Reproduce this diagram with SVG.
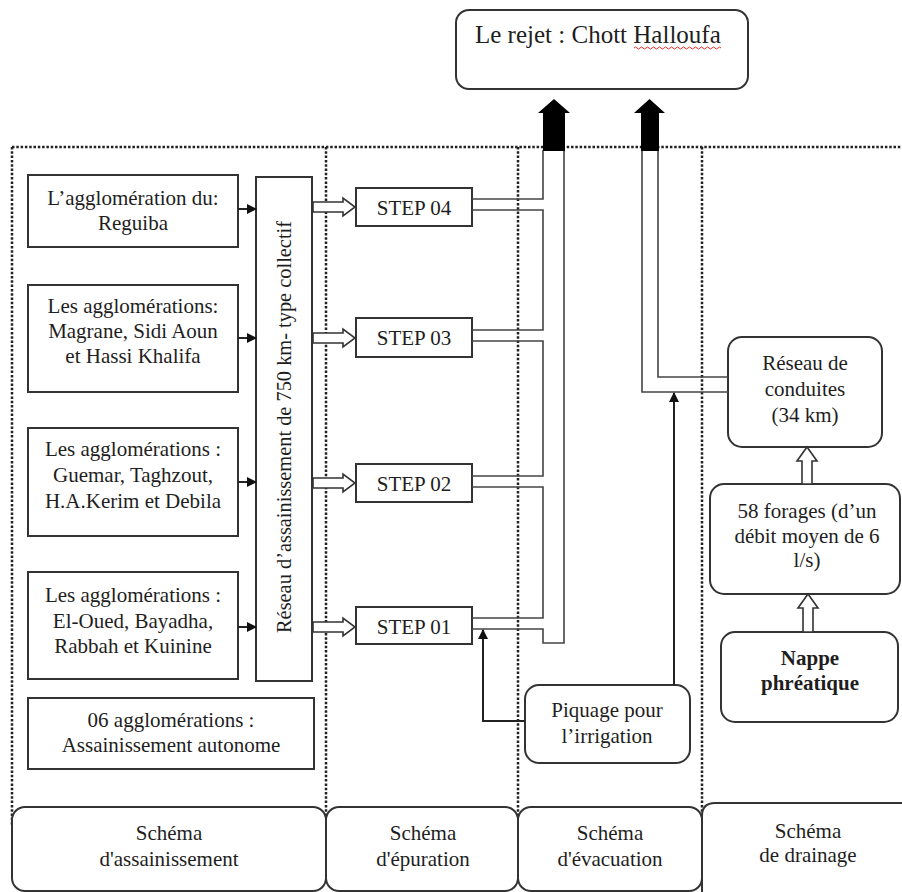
<svg xmlns="http://www.w3.org/2000/svg" width="902" height="892" viewBox="0 0 902 892">
<style>
text{font-family:"Liberation Serif",Tinos,"Times New Roman","DejaVu Serif",serif;font-size:21px;fill:#1e1e1e;text-anchor:middle}
.box{fill:#fff;stroke:#333;stroke-width:2}
.rbox{fill:#fff;stroke:#333;stroke-width:2}
.dot{fill:none;stroke:#222;stroke-width:2.5;stroke-dasharray:2.5 1.8}
.pipe{fill:none;stroke:#444;stroke-width:1.6}
.ln{fill:none;stroke:#222;stroke-width:2}
.hollow{fill:#fff;stroke:#333;stroke-width:1.6}
.blk{fill:#000}
</style>
<defs>
<marker id="ah" markerWidth="10" markerHeight="10" refX="9" refY="5" orient="auto" markerUnits="userSpaceOnUse">
<path d="M0,0 L10,5 L0,10 Z" fill="#111"/>
</marker>
</defs>
<rect width="902" height="892" fill="#fff"/>

<g id="frame">
<path class="dot" d="M12,147 H902"/>
<path class="dot" d="M12,147 V826"/>
<path class="dot" d="M326,147 V815"/>
<path class="dot" d="M518,147 V815"/>
<path class="dot" d="M702,147 V812"/>
</g>

<g id="rejet">
<rect class="rbox" x="456" y="10" width="292" height="79" rx="13"/>
<text x="475" y="43" style="text-anchor:start;font-size:25px">Le rejet : Chott  Halloufa</text>
<path d="M634,48 q1.5,-2 3,0 t3,0 t3,0 t3,0 t3,0 t3,0 t3,0 t3,0 t3,0 t3,0 t3,0 t3,0 t3,0 t3,0 t3,0 t3,0 t3,0 t3,0 t3,0 t3,0 t3,0 t3,0 t3,0 t3,0 t3,0 t3,0 t3,0 t3,0 t3,0" fill="none" stroke="#e03030" stroke-width="1"/>
</g>

<g id="agglo-reguiba">
<rect class="box" x="28" y="175" width="210" height="72"/>
<text x="133" y="205">L’agglomération du:</text>
<text x="133" y="230">Reguiba</text>
</g>
<g id="agglo-magrane">
<rect class="box" x="28" y="285" width="210" height="107"/>
<text x="133" y="313">Les agglomérations:</text>
<text x="133" y="338">Magrane, Sidi Aoun</text>
<text x="133" y="363">et Hassi Khalifa</text>
</g>
<g id="agglo-guemar">
<rect class="box" x="28" y="428" width="210" height="108"/>
<text x="133" y="456">Les agglomérations :</text>
<text x="133" y="482">Guemar, Taghzout,</text>
<text x="133" y="508">H.A.Kerim et Debila</text>
</g>
<g id="agglo-eloued">
<rect class="box" x="28" y="572" width="210" height="107"/>
<text x="133" y="602">Les agglomérations :</text>
<text x="133" y="628">El-Oued, Bayadha,</text>
<text x="133" y="653">Rabbah et Kuinine</text>
</g>
<g id="agglo-autonome">
<rect class="box" x="28" y="698" width="286" height="71"/>
<text x="171" y="727">06 agglomérations :</text>
<text x="171" y="752">Assainissement autonome</text>
</g>
<g id="reseau-assainissement">
<rect class="box" x="256" y="177" width="56" height="504"/>
<text transform="translate(291,427) rotate(-90)" textLength="412" lengthAdjust="spacingAndGlyphs">Réseau d’assainissement de 750 km- type collectif</text>
</g>

<g id="step04"><rect class="box" x="356" y="188" width="116" height="38"/><text x="414" y="215">STEP 04</text></g>
<g id="step03"><rect class="box" x="356" y="318" width="116" height="39"/><text x="414" y="345">STEP 03</text></g>
<g id="step02"><rect class="box" x="356" y="464" width="116" height="38"/><text x="414" y="491">STEP 02</text></g>
<g id="step01"><rect class="box" x="356" y="607" width="116" height="37"/><text x="414" y="634">STEP 01</text></g>

<g id="piquage">
<rect class="rbox" x="525" y="685" width="165" height="78" rx="14"/>
<text x="607" y="717">Piquage pour</text>
<text x="607" y="743">l’irrigation</text>
</g>
<g id="reseau-conduites">
<rect class="rbox" x="728" y="337" width="154" height="110" rx="14"/>
<text x="805" y="370">Réseau de</text>
<text x="805" y="396">conduites</text>
<text x="805" y="422">(34 km)</text>
</g>
<g id="forages">
<rect class="rbox" x="710" y="484" width="190" height="110" rx="14"/>
<text x="807" y="518">58 forages (d’un</text>
<text x="807" y="543">débit moyen de 6</text>
<text x="807" y="567">l/s)</text>
</g>
<g id="nappe">
<rect class="rbox" x="721" y="632" width="177" height="90" rx="14"/>
<text x="810" y="665" font-weight="bold">Nappe</text>
<text x="810" y="690" font-weight="bold">phréatique</text>
</g>

<g id="legend">
<rect class="rbox" x="12" y="807" width="314" height="84" rx="13"/>
<rect class="rbox" x="326" y="807" width="192" height="84" rx="13"/>
<rect class="rbox" x="518" y="807" width="184" height="84" rx="13"/>
<path class="rbox" d="M702,892 V816 Q702,803 715,803 H904"/>
<text x="169" y="840">Schéma</text>
<text x="169" y="866">d'assainissement</text>
<text x="423" y="840">Schéma</text>
<text x="423" y="866">d'épuration</text>
<text x="610" y="840">Schéma</text>
<text x="610" y="866">d'évacuation</text>
<text x="808" y="838">Schéma</text>
<text x="808" y="862">de drainage</text>
</g>

<g id="connectors">
<path class="ln" d="M238,209 H256" marker-end="url(#ah)"/>
<path class="ln" d="M238,338 H256" marker-end="url(#ah)"/>
<path class="ln" d="M238,482 H256" marker-end="url(#ah)"/>
<path class="ln" d="M238,627 H256" marker-end="url(#ah)"/>

<path class="hollow" d="M313,202 H343 V198 L355,207 L343,216 V212 H313 Z"/>
<path class="hollow" d="M313,333 H343 V329 L355,338 L343,347 V343 H313 Z"/>
<path class="hollow" d="M313,478 H343 V474 L355,483 L343,492 V488 H313 Z"/>
<path class="hollow" d="M313,622 H343 V618 L355,627 L343,636 V632 H313 Z"/>

<path class="pipe" d="M472,199 H543 V150"/>
<path class="pipe" d="M472,210 H543 V330 H472"/>
<path class="pipe" d="M472,341 H543 V476 H472"/>
<path class="pipe" d="M472,487 H543 V618 H472"/>
<path class="pipe" d="M472,629 H543 V643 H564 V150"/>
<path class="blk" d="M543,151 V113 H538 L554,99 L570,113 H565 V151 Z"/>

<path class="pipe" d="M642,150 V392 H728"/>
<path class="pipe" d="M658,150 V377 H728"/>
<path class="blk" d="M641,151 V113 H634 L649.5,99 L665,113 H659 V151 Z"/>

<path class="ln" d="M674,685 V393" marker-end="url(#ah)"/>
<path class="ln" d="M525,721 H483 V630" marker-end="url(#ah)"/>

<path class="hollow" d="M802,484 V461 H797 L807,447 L817,461 H812 V484 Z"/>
<path class="hollow" d="M803,632 V608 H798 L808,594 L818,608 H813 V632 Z"/>
</g>
</svg>
